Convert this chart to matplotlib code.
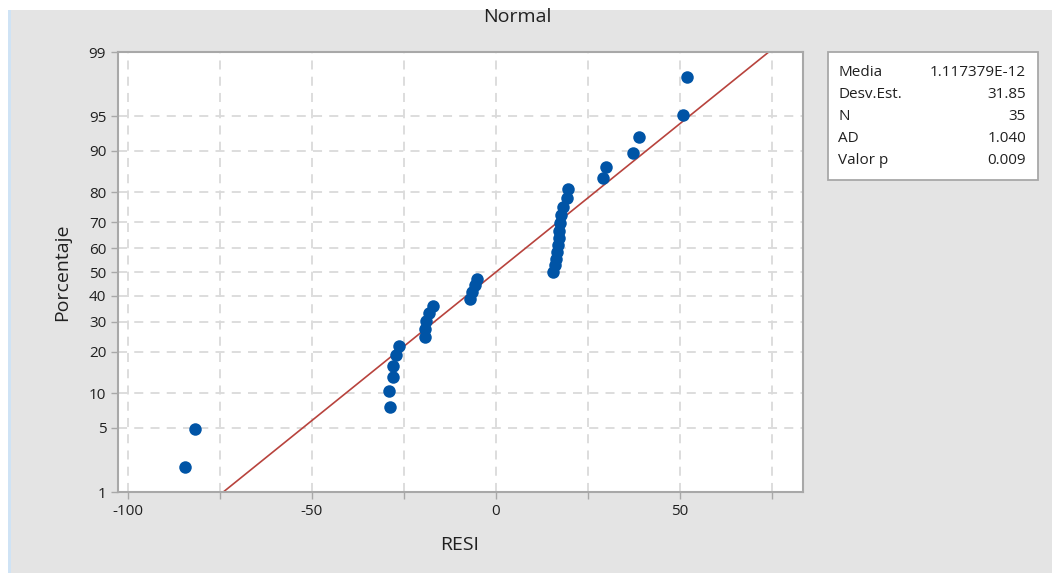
from statistics import NormalDist

import matplotlib

matplotlib.use("Agg")
import matplotlib.pyplot as plt
from matplotlib.patches import Rectangle
from matplotlib.ticker import FixedLocator

plt.rcParams["font.family"] = ["Open Sans", "DejaVu Sans"]

# residuals, sorted
resi = [
    -84.5, -81.8,
    -28.8, -29.1, -27.9, -27.9, -27.2, -26.4,
    -19.4, -19.3, -19.0, -18.2, -17.0,
    -7.1, -6.5, -5.8, -5.3,
    15.6, 16.0, 16.3, 16.6, 16.8, 17.0, 17.1, 17.3, 17.6, 18.2, 19.2, 19.6,
    29.0, 29.9, 37.3, 38.9, 50.7, 52.0,
]
pct_ticks = [1, 5, 10, 20, 30, 40, 50, 60, 70, 80, 90, 95, 99]
x_major = [-100, -50, 0, 50]
x_minor = [-75, -25, 25, 75]
stat_names = ["Media", "Desv.Est.", "N", "AD", "Valor p"]
stat_values = ["1.117379E-12", "31.85", "35", "1.040", "0.009"]
fit_mean = 0.0
fit_sd = 31.85

nd = NormalDist()
n = len(resi)
# Minitab plotting positions (median ranks)
z_pts = [nd.inv_cdf((i + 1 - 0.3) / (n + 0.4)) for i in range(n)]
z_ticks = [nd.inv_cdf(p / 100) for p in pct_ticks]

fig = plt.figure(figsize=(10.52, 5.73), dpi=100)
fig.patch.set_facecolor("white")
fig.add_artist(Rectangle((10 / 1052, 0), 1, 1 - 10 / 573, transform=fig.transFigure,
                         facecolor="#e4e4e4", edgecolor="none", zorder=-10))
fig.add_artist(Rectangle((8 / 1052, 0), 3 / 1052, 1 - 10 / 573, transform=fig.transFigure,
                         facecolor="#cfe3f5", edgecolor="none", zorder=-9))

ax = fig.add_axes([118 / 1052, 1 - 492 / 573, 685 / 1052, 440 / 573])
ax.set_facecolor("white")

zlo, zhi = z_ticks[0], z_ticks[-1]
ax.set_ylim(zlo, zhi)
ax.set_xlim(-102.7, 83.4)

ax.yaxis.set_major_locator(FixedLocator(z_ticks))
ax.set_yticklabels([str(p) for p in pct_ticks])
ax.xaxis.set_major_locator(FixedLocator(x_major))
ax.xaxis.set_minor_locator(FixedLocator(x_minor))
ax.set_xticklabels([str(v) for v in x_major])

for v in x_major + x_minor:
    ax.axvline(v, color="#dadada", lw=1.3, ls=(0, (5, 4)), zorder=0)
for z in z_ticks[1:-1]:
    ax.axhline(z, color="#dadada", lw=1.3, ls=(0, (5, 4)), zorder=0)

# fitted normal line
ax.plot([fit_mean + fit_sd * zlo, fit_mean + fit_sd * zhi], [zlo, zhi],
        color="#b8433d", lw=1.2, zorder=2)
ax.plot(resi, z_pts, "o", color="#0054a6", markersize=9, markeredgewidth=0, zorder=3)

for s in ax.spines.values():
    s.set_color("#a8a8a8")
    s.set_linewidth(1.5)
ax.tick_params(axis="both", which="both", color="#a8a8a8", length=5, width=1,
               labelsize=11, labelcolor="#202020")

fig.text(517 / 1052, 1 - 17 / 573, "Normal", ha="center", va="center", fontsize=14, color="#202020")
fig.text(62 / 1052, 1 - 272 / 573, "Porcentaje", rotation=90, ha="center", va="center",
         fontsize=14, color="#202020")
fig.text(460 / 1052, 1 - 545 / 573, "RESI", ha="center", va="center", fontsize=14, color="#202020")

# statistics box
fig.add_artist(Rectangle((828 / 1052, 1 - 180 / 573), 210 / 1052, 128 / 573,
                         transform=fig.transFigure, facecolor="white",
                         edgecolor="#a8a8a8", lw=1.3))
for k, (name, val) in enumerate(zip(stat_names, stat_values)):
    yy = 1 - (73 + k * 22) / 573
    fig.text(838 / 1052, yy, name, ha="left", va="center", fontsize=11, color="#202020")
    fig.text(1026 / 1052, yy, val, ha="right", va="center", fontsize=11, color="#202020")

fig.savefig("out.png", dpi=100)
